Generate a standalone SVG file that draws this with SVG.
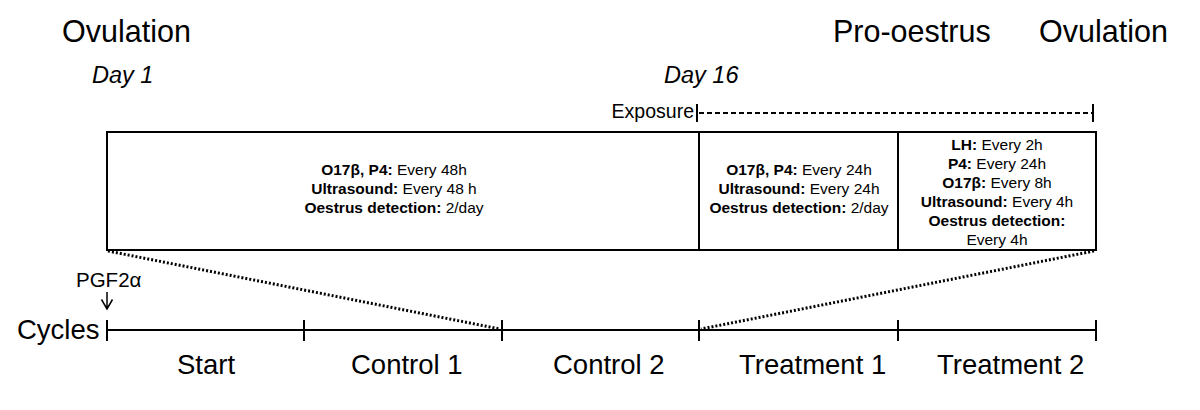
<svg xmlns="http://www.w3.org/2000/svg" width="1200" height="410" viewBox="0 0 1200 410">
<style>
text{font-family:"Liberation Sans",Arial,sans-serif;fill:#000}
.big{font-size:30.5px}
.day{font-size:23.5px;font-style:italic}
.box{font-size:15.5px;text-anchor:middle}
.box tspan.b{font-weight:bold}
.lab{font-size:27.5px}
.ln{stroke:#000;stroke-width:2;fill:none}
.dot{stroke:#000;stroke-width:3;stroke-dasharray:2,2;fill:none}
.dash{stroke:#000;stroke-width:1.8;stroke-dasharray:5,3;fill:none}
</style>
<g id="headers">
<text class="big" x="62" y="42">Ovulation</text>
<text class="big" x="833" y="42">Pro-oestrus</text>
<text class="big" x="1039" y="42">Ovulation</text>
<text class="day" x="92" y="83">Day 1</text>
<text class="day" x="664" y="83">Day 16</text>
</g>
<g id="exposure">
<text x="694" y="118" style="font-size:19.5px;text-anchor:end">Exposure</text>
<line class="ln" x1="697" y1="104" x2="697" y2="122"/>
<line class="dash" x1="699" y1="113" x2="1092" y2="113"/>
<line class="ln" x1="1093" y1="104" x2="1093" y2="122"/>
</g>
<g id="box1">
<rect class="ln" x="107" y="132" width="592" height="118"/>
<text class="box" x="394" y="175"><tspan class="b">O17β, P4:</tspan> Every 48h</text>
<text class="box" x="394" y="194"><tspan class="b">Ultrasound:</tspan> Every 48 h</text>
<text class="box" x="394" y="213"><tspan class="b">Oestrus detection:</tspan> 2/day</text>
</g>
<g id="box2">
<rect class="ln" x="699" y="132" width="199" height="118"/>
<text class="box" x="799" y="175"><tspan class="b">O17β, P4:</tspan> Every 24h</text>
<text class="box" x="799" y="194"><tspan class="b">Ultrasound:</tspan> Every 24h</text>
<text class="box" x="799" y="213"><tspan class="b">Oestrus detection:</tspan> 2/day</text>
</g>
<g id="box3">
<rect class="ln" x="898" y="132" width="198" height="118"/>
<text class="box" x="997" y="150"><tspan class="b">LH:</tspan> Every 2h</text>
<text class="box" x="997" y="169"><tspan class="b">P4:</tspan> Every 24h</text>
<text class="box" x="997" y="188"><tspan class="b">O17β:</tspan> Every 8h</text>
<text class="box" x="997" y="207"><tspan class="b">Ultrasound:</tspan> Every 4h</text>
<text class="box" x="997" y="226"><tspan class="b">Oestrus detection:</tspan></text>
<text class="box" x="997" y="245">Every 4h</text>
</g>
<g id="connectors">
<line class="dot" x1="108" y1="251" x2="500" y2="329"/>
<line class="dot" x1="1094" y1="251" x2="701" y2="329"/>
<path d="M107,292 V309 M101.5,299.5 L107,309 L112.5,299.5" fill="none" stroke="#000" stroke-width="1.5"/>
</g>
<g id="timeline">
<text x="17" y="339" style="font-size:27.5px">Cycles</text>
<text x="76" y="287" style="font-size:20.5px">PGF2α</text>
<line class="ln" x1="107" y1="330" x2="1096" y2="330"/>
<line class="ln" x1="107" y1="320" x2="107" y2="341"/>
<line class="ln" x1="304" y1="320" x2="304" y2="341"/>
<line class="ln" x1="502" y1="320" x2="502" y2="341"/>
<line class="ln" x1="699" y1="320" x2="699" y2="341"/>
<line class="ln" x1="898" y1="320" x2="898" y2="341"/>
<line class="ln" x1="1096" y1="320" x2="1096" y2="341"/>
<text class="lab" x="177" y="374">Start</text>
<text class="lab" x="351" y="374">Control 1</text>
<text class="lab" x="553" y="374">Control 2</text>
<text class="lab" x="739" y="374">Treatment 1</text>
<text class="lab" x="937" y="374">Treatment 2</text>
</g>
</svg>
